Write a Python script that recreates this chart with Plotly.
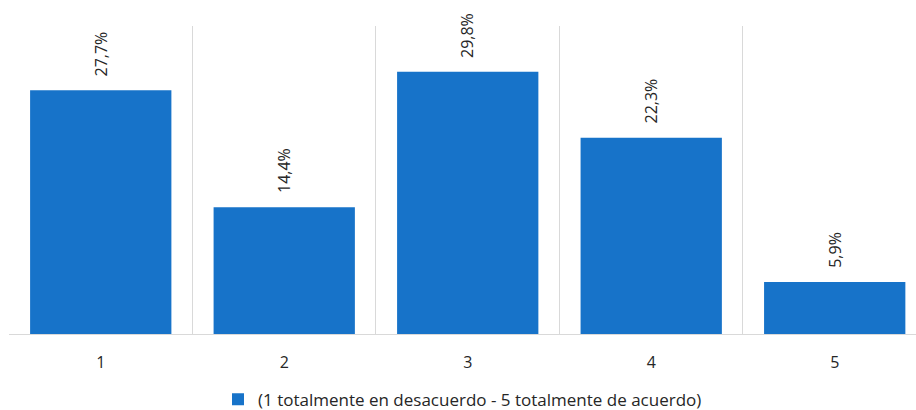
import plotly.graph_objects as go

categories = ["1", "2", "3", "4", "5"]
values = [27.7, 14.4, 29.8, 22.3, 5.9]
series_name = "(1 totalmente en desacuerdo - 5 totalmente de acuerdo)"

bar_color = "#1773C9"
text_color = "#262626"
font_family = "Open Sans, Liberation Sans, sans-serif"

labels = [f"{v:.1f}".replace(".", ",") + "%" for v in values]

fig = go.Figure()
fig.add_trace(go.Bar(
    x=categories,
    y=values,
    name=series_name,
    marker=dict(color=bar_color, line=dict(width=0)),
    width=0.77,
    showlegend=True,
))

# value labels, rotated, sitting just above each bar (x given as category index)
for i, (v, t) in enumerate(zip(values, labels)):
    fig.add_annotation(
        x=i, y=v, text=t, textangle=-90,
        showarrow=False, xanchor="center", yanchor="bottom", yshift=12,
        font=dict(size=16, color=text_color, family=font_family),
    )

fig.update_layout(
    width=916, height=410,
    margin=dict(l=9, r=0, t=26, b=76),
    paper_bgcolor="white", plot_bgcolor="white",
    font=dict(family=font_family, size=16, color=text_color),
    xaxis=dict(
        type="category",
        range=[-0.5, 4.443],
        tickson="boundaries",
        showgrid=True, gridcolor="#D9D9D9", gridwidth=1,
        showline=True, linecolor="#D9D9D9", linewidth=1,
        ticks="", tickfont=dict(size=16, color=text_color),
        ticklabelstandoff=14,
    ),
    yaxis=dict(
        range=[0, 35],
        showgrid=False, zeroline=False, showticklabels=False,
    ),
    legend=dict(
        orientation="h", x=0.5, xanchor="center",
        yref="container", y=0.025, yanchor="middle",
        itemwidth=30,
        font=dict(size=17, color=text_color),
    ),
    bargap=0.23,
)

fig.write_html("out.html")
